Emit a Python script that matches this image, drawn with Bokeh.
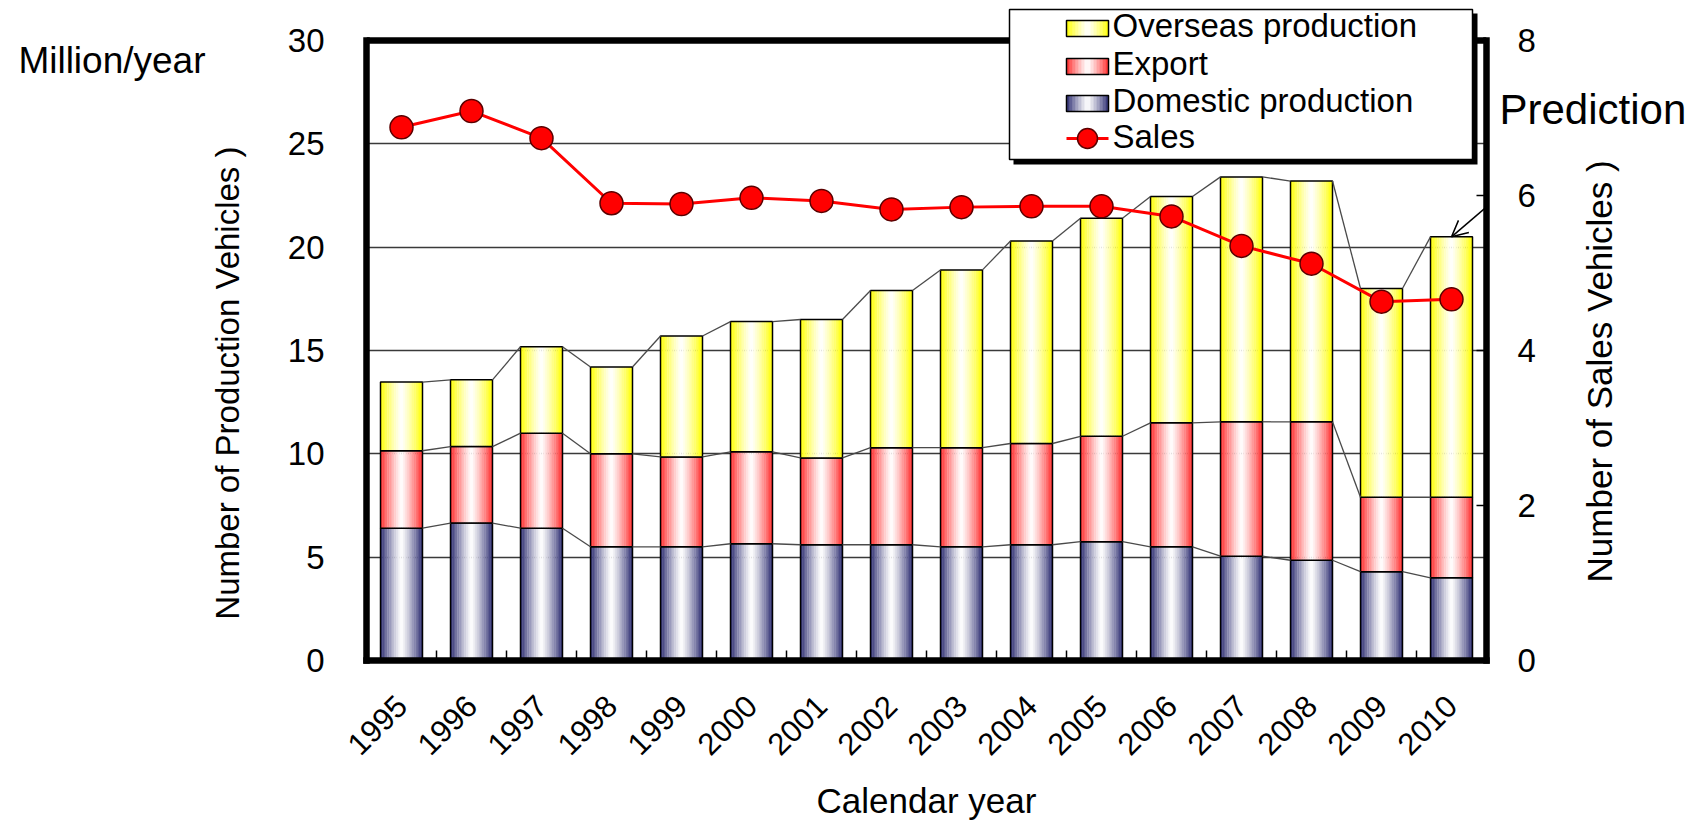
import math
import numpy as np
from bokeh.plotting import figure
from bokeh.models import (Range1d, LinearAxis, FixedTicker, Label, BoxAnnotation,
                          Arrow, OpenHead, Span)
from bokeh.embed import file_html
from bokeh.resources import INLINE

# ---------------- data ----------------
years = ["1995", "1996", "1997", "1998", "1999", "2000", "2001", "2002",
         "2003", "2004", "2005", "2006", "2007", "2008", "2009", "2010"]
domestic = [6.40, 6.65, 6.40, 5.50, 5.50, 5.65, 5.60, 5.60,
            5.50, 5.60, 5.75, 5.50, 5.05, 4.85, 4.30, 4.00]
export = [3.75, 3.70, 4.60, 4.50, 4.35, 4.45, 4.20, 4.70,
          4.80, 4.90, 5.10, 6.00, 6.50, 6.70, 3.60, 3.90]
overseas = [3.32, 3.23, 4.18, 4.20, 5.85, 6.30, 6.70, 7.60,
            8.60, 9.80, 10.55, 10.95, 11.85, 11.65, 10.10, 12.60]
sales = [6.88, 7.09, 6.74, 5.90, 5.89, 5.97, 5.93, 5.82,
         5.85, 5.86, 5.86, 5.73, 5.35, 5.12, 4.63, 4.66]
left_ticks = [0, 5, 10, 15, 20, 25, 30]
right_ticks = [0, 2, 4, 6, 8]
series_names = ["Overseas production", "Export", "Domestic production", "Sales"]

FONT = "Liberation Sans"
W, H = 1698, 826
# canvas pixels of the drawn plot box
FL, FR, FB, FT = 366, 1486, 660, 40
YTOP = 0            # top of the bokeh frame (the box top is drawn at value 30)
Y_MAX, S_MAX = 30.0, 8.0
y_end = Y_MAX * (FB - YTOP) / (FB - FT)
s_end = S_MAX * (FB - YTOP) / (FB - FT)
NCAT = len(years)
DX = (FR - FL) / NCAT


def px2x(px):
    return -0.5 + (px - FL) / DX


def py2y(py):
    return (FB - py) * Y_MAX / (FB - FT)


xs = np.arange(NCAT, dtype=float)
dom = np.array(domestic)
exp_top = dom + np.array(export)
tot = exp_top + np.array(overseas)

p = figure(width=W, height=H, output_backend="svg", toolbar_location=None, title=None,
           x_range=Range1d(-0.5, NCAT - 0.5), y_range=Range1d(0, y_end),
           min_border_left=FL, min_border_right=W - FR, min_border_top=YTOP,
           min_border_bottom=H - FB)
p.extra_y_ranges = {"sales": Range1d(0, s_end), "px": Range1d(0, FB - YTOP)}
p.background_fill_color = "white"
p.border_fill_color = "white"
p.outline_line_color = None

# grid
p.xgrid.visible = False
p.ygrid.ticker = FixedTicker(ticks=left_ticks)
p.ygrid.grid_line_color = "#3a3a3a"
p.ygrid.grid_line_width = 1.3

FRAME_W = 6.5

# x axis
xa = p.xaxis[0]
xa.ticker = FixedTicker(ticks=list(range(NCAT)),
                        minor_ticks=[i + 0.5 for i in range(NCAT - 1)])
xa.major_label_overrides = {i: y for i, y in enumerate(years)}
xa.major_label_orientation = math.pi / 4
xa.major_tick_line_color = None
xa.minor_tick_in = 10
xa.minor_tick_out = 0
xa.minor_tick_line_color = "black"
xa.minor_tick_line_width = 1.5
xa.axis_line_color = "black"
xa.axis_line_width = FRAME_W
xa.axis_line_cap = "square"
xa.bounds = (-0.5, NCAT - 0.5)
xa.major_label_text_font = FONT
xa.major_label_text_font_size = "31px"
xa.major_label_text_color = "black"
xa.major_label_standoff = 34
xa.axis_label = "Calendar year"
xa.axis_label_text_font = FONT
xa.axis_label_text_font_size = "35px"
xa.axis_label_text_font_style = "normal"
xa.axis_label_text_color = "black"
xa.axis_label_standoff = 13

# left axis
ya = p.yaxis[0]
ya.ticker = FixedTicker(ticks=left_ticks)
ya.major_tick_line_color = None
ya.minor_tick_line_color = None
ya.axis_line_color = "black"
ya.axis_line_width = FRAME_W
ya.axis_line_cap = "square"
ya.bounds = (0, Y_MAX)
ya.major_label_text_font = FONT
ya.major_label_text_font_size = "33px"
ya.major_label_text_color = "black"
ya.major_label_standoff = 36

# right axis
ra = LinearAxis(y_range_name="sales", ticker=FixedTicker(ticks=right_ticks))
ra.major_tick_in = 10
ra.major_tick_out = 0
ra.major_tick_line_color = "black"
ra.major_tick_line_width = 1.5
ra.minor_tick_line_color = None
ra.axis_line_color = "black"
ra.axis_line_width = FRAME_W
ra.axis_line_cap = "square"
ra.bounds = (0, S_MAX)
ra.major_label_text_font = FONT
ra.major_label_text_font_size = "33px"
ra.major_label_text_color = "black"
ra.major_label_standoff = 31
p.add_layout(ra, "right")

# top edge of the plot box
p.add_layout(Span(location=Y_MAX, dimension="width", line_color="black",
                  line_width=FRAME_W))

# axis titles (side-panel labels so they can sit where the reference has them)
p.add_layout(Label(x=px2x(227), y=py2y(378), text="Number of Production Vehicles  )",
                   angle=math.pi / 2, text_align="center", text_baseline="middle",
                   text_font=FONT, text_font_size="33px", text_color="black"), "left")
p.add_layout(Label(x=px2x(1599), y=py2y(366), text="Number of Sales Vehicles  )",
                   angle=math.pi / 2, text_align="center", text_baseline="middle",
                   text_font=FONT, text_font_size="35px", text_color="black"), "right")

# unit text at the top left, as the label of an extra left axis
UNIT_PX = FB - 60
ua = LinearAxis(y_range_name="px", ticker=FixedTicker(ticks=[UNIT_PX]),
                major_label_overrides={UNIT_PX: "Million/year"})
ua.axis_line_color = None
ua.major_tick_line_color = None
ua.minor_tick_line_color = None
ua.major_label_text_font = FONT
ua.major_label_text_font_size = "37px"
ua.major_label_text_color = "black"
ua.major_label_standoff = 36
p.add_layout(ua, "left")

# "Prediction" note, as the label of an extra right axis
PRED_PX = FB - 109
pa = LinearAxis(y_range_name="px", ticker=FixedTicker(ticks=[PRED_PX]),
                major_label_overrides={PRED_PX: "Prediction"})
pa.axis_line_color = None
pa.major_tick_line_color = None
pa.minor_tick_line_color = None
pa.major_label_text_font = FONT
pa.major_label_text_font_size = "42px"
pa.major_label_text_color = "black"
pa.major_label_standoff = -84
p.add_layout(pa, "right")

# ---------------- gradient bars ----------------
BAR_W = 0.6
NSTRIP = 24


def mix(c, t):
    r, g, b = int(c[1:3], 16), int(c[3:5], 16), int(c[5:7], 16)
    return "#%02x%02x%02x" % (round(255 + (r - 255) * t), round(255 + (g - 255) * t),
                              round(255 + (b - 255) * t))


segments = [
    (np.zeros(NCAT), dom, "#2b2b70"),
    (dom, exp_top, "#ff2a2a"),
    (exp_top, tot, "#ffff00"),
]
for bottom, top, col in segments:
    for k in range(NSTRIP):
        u = (k + 0.5) / NSTRIP
        t = abs(2 * u - 1) ** 1.2
        off = -BAR_W / 2 + u * BAR_W
        p.vbar(x=xs + off, bottom=bottom, top=top, width=BAR_W / NSTRIP * 1.15,
               fill_color=mix(col, t), line_color=None)
    p.vbar(x=xs, bottom=bottom, top=top, width=BAR_W, fill_color=None,
           line_color="black", line_width=1.5)

# series connecting lines
for level in (dom, exp_top, tot):
    p.segment(x0=xs[:-1] + BAR_W / 2, y0=level[:-1], x1=xs[1:] - BAR_W / 2, y1=level[1:],
              line_color="#4a4a4a", line_width=1.3)

# sales line
p.line(xs, sales, y_range_name="sales", line_color="#ff0000", line_width=3)
p.scatter(xs, sales, y_range_name="sales", size=23, fill_color="#ff0000",
          line_color="#5a0000", line_width=1.5)

# ---------------- legend (drawn inside the frame) ----------------


def sx(px):
    return px - FL


def sy(py):
    return FB - py


def box(l, r, t, b, fill, line=None, lw=1.5, radius=0):
    kw = dict(left=sx(l), right=sx(r), top=sy(t), bottom=sy(b),
              left_units="screen", right_units="screen", top_units="screen",
              bottom_units="screen", fill_color=fill, fill_alpha=1.0,
              line_color=line, line_width=lw, line_alpha=1.0, level="overlay")
    if radius:
        kw["border_radius"] = radius
    p.add_layout(BoxAnnotation(**kw))


box(1013, 1477, 13, 164, "black")
box(1009, 1472, 9, 159, "white", "black", 1.5)

sw_l, sw_r = 1066, 1108
rows = [(20, 36, "#ffff00"), (58, 74, "#ff2a2a"), (95, 111, "#2b2b70")]
NS = 14
for t0, b0, col in rows:
    for k in range(NS):
        u = (k + 0.5) / NS
        tt = abs(2 * u - 1) ** 1.2
        l = sw_l + (sw_r - sw_l) * k / NS
        r = sw_l + (sw_r - sw_l) * (k + 1) / NS + 0.4
        box(l, r, t0, b0, mix(col, tt))
    box(sw_l, sw_r, t0, b0, None, "black", 1.5)
box(sw_l, sw_r, 136.5, 139.5, "#ff0000")
box(1077, 1097, 128, 148, "#ff0000", "#5a0000", 1.5, radius=10)

baselines = [25, 63, 100, 136]
for name, bl in zip(series_names, baselines):
    p.add_layout(Label(x=sx(1112), y=sy(bl), x_units="screen", y_units="screen",
                       text=name, text_font=FONT, text_font_size="33px",
                       text_color="black", text_baseline="alphabetic", level="overlay"))

p.add_layout(Arrow(x_start=sx(1572), y_start=sy(133), start_units="screen",
                   x_end=xs[-1], y_end=tot[-1], end_units="data",
                   line_color="black", line_width=1.5,
                   end=OpenHead(size=16, line_color="black", line_width=1.5)))

open("out.html", "w").write(file_html(p, INLINE))
